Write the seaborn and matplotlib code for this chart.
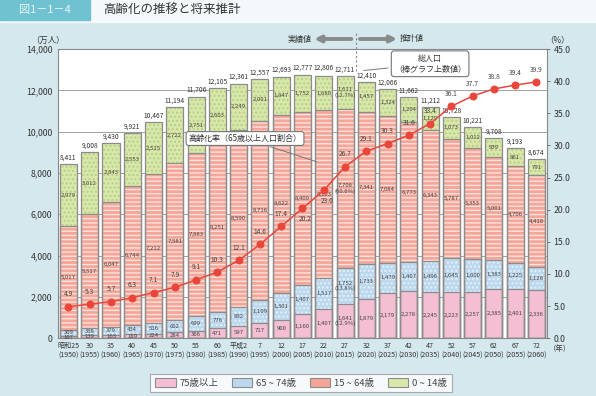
import numpy as np
import pandas as pd
import matplotlib.pyplot as plt
import seaborn as sns
from matplotlib.patches import Rectangle, Patch

# Data (万人, %)
years = [1950, 1955, 1960, 1965, 1970, 1975, 1980, 1985, 1990, 1995, 2000, 2005,
         2010, 2015, 2020, 2025, 2030, 2035, 2040, 2045, 2050, 2055, 2060]
era = ["昭和25", "30", "35", "40", "45", "50", "55", "60", "平成2", "7", "12", "17",
       "22", "27", "32", "37", "42", "47", "52", "57", "62", "67", "72"]
age75 = [107, 139, 163, 189, 224, 284, 366, 471, 597, 717, 900, 1160,
         1407, 1641, 1879, 2179, 2278, 2245, 2223, 2257, 2385, 2401, 2336]
age65 = [309, 338, 379, 434, 516, 602, 699, 776, 892, 1109, 1301, 1407,
         1517, 1752, 1733, 1479, 1407, 1496, 1645, 1600, 1383, 1225, 1128]
age15 = [5017, 5517, 6047, 6744, 7212, 7581, 7883, 8251, 8590, 8716, 8622, 8409,
         8103, 7708, 7341, 7084, 6773, 6343, 5787, 5353, 5001, 4706, 4418]
age0 = [2979, 3012, 2843, 2553, 2515, 2722, 2751, 2603, 2249, 2001, 1847, 1752,
        1680, 1611, 1457, 1324, 1204, 1129, 1073, 1012, 939, 861, 791]
totals = [8411, 9008, 9430, 9921, 10467, 11194, 11706, 12105, 12361, 12557, 12693, 12777,
          12806, 12711, 12410, 12066, 11662, 11212, 10728, 10221, 9708, 9193, 8674]
rate = [4.9, 5.3, 5.7, 6.3, 7.1, 7.9, 9.1, 10.3, 12.1, 14.6, 17.4, 20.2,
        23.0, 26.7, 29.1, 30.3, 31.6, 33.4, 36.1, 37.7, 38.8, 39.4, 39.9]
share_2015 = {"age75": "12.9%", "age65": "13.8%", "age15": "60.6%", "age0": "12.7%"}

sns.set_theme(style="white")
plt.rcParams['font.family'] = ['Noto Sans CJK JP', 'DejaVu Sans']
plt.rcParams['hatch.linewidth'] = 1.0

df = pd.DataFrame({"label": [f"{e}\n({y})" for e, y in zip(era, years)],
                   "age75": age75, "age65": age65, "age15": age15, "age0": age0})
df["c1"] = df["age75"]
df["c2"] = df["c1"] + df["age65"]
df["c3"] = df["c2"] + df["age15"]
df["c4"] = df["c3"] + df["age0"]

bg = "#d5e8ee"
pink, blue, salmon, green = "#f5bfd3", "#bcd8ee", "#f5a698", "#d8e7aa"
red = "#e8463a"
edge = "#8c8c8c"

fig = plt.figure(figsize=(5.96, 3.96), dpi=100, facecolor=bg)
ax = fig.add_axes([0.097, 0.146, 0.821, 0.730])
ax.set_facecolor("white")

# header
fig.patches.append(Rectangle((0, 1 - 22 / 396), 1, 22 / 396, transform=fig.transFigure,
                             color="#f3f8fa", zorder=0))
fig.patches.append(Rectangle((0, 1 - 20 / 396), 90 / 596, 20 / 396, transform=fig.transFigure,
                             color="#6fc2cf", zorder=1))
fig.text(45 / 596, 1 - 10 / 396, "図1－1－4", color="#e8f6f8", fontsize=8, ha="center", va="center")
fig.text(103 / 596, 1 - 10 / 396, "高齢化の推移と将来推計", color="#333333", fontsize=9,
         ha="left", va="center")

# stacked bars: draw cumulative totals back to front
layers = [("c4", green, "....", "#b9cf85"),
          ("c3", salmon, "----", "#fbe3de"),
          ("c2", blue, "....", "#e6f1f9"),
          ("c1", pink, None, pink)]
for col, color, hatch, hcol in layers:
    sns.barplot(data=df, x="label", y=col, color=color, saturation=1, width=0.8,
                hatch=hatch, edgecolor=hcol, linewidth=0, errorbar=None, ax=ax, zorder=2)
for col in ["c4", "c3", "c2", "c1"]:
    sns.barplot(data=df, x="label", y=col, color=edge, fill=False, width=0.8,
                linewidth=0.9, errorbar=None, ax=ax, zorder=3)

ax.set_xlim(-0.5, 22.5)
ax.set_ylim(0, 14000)
ax.set_yticks(range(0, 14001, 2000))
ax.set_yticklabels([f"{v:,}" for v in range(0, 14001, 2000)])
ax.yaxis.grid(True, color="#a0a0a0", linewidth=0.7)
ax.set_axisbelow(True)
ax.set_xlabel("")
ax.set_ylabel("")
ax.tick_params(axis="x", labelsize=5.1, length=0, pad=3, colors="#333333")
ax.tick_params(axis="y", labelsize=6.3, length=0, pad=4, colors="#333333")
for s in ax.spines.values():
    s.set_color("#888888")
    s.set_linewidth(0.8)

# value labels inside segments
for i in range(len(years)):
    bottom = 0
    for key in ["age75", "age65", "age15", "age0"]:
        v = df[key][i]
        txt = f"{v:,}"
        if years[i] == 2015:
            txt += f"\n({share_2015[key]})"
        ax.text(i, bottom + v / 2, txt, ha="center", va="center", fontsize=4.3,
                color="#444444", zorder=4, linespacing=1.0)
        bottom += v
    ax.text(i, totals[i] + 120, f"{totals[i]:,}", ha="center", va="bottom",
            fontsize=4.8, color="#333333", zorder=4)

# projection divider
ax.plot([13.5, 13.5], [12950, 14830], color="#888888", lw=0.8, ls=(0, (2, 2)),
        clip_on=False, zorder=5)
ax.annotate("", xy=(11.55, 14490), xytext=(13.3, 14490), annotation_clip=False,
            arrowprops=dict(arrowstyle="-|>", color="#8a8a8a", lw=2.8, mutation_scale=9,
                            shrinkA=0, shrinkB=0))
ax.annotate("", xy=(15.45, 14490), xytext=(13.7, 14490), annotation_clip=False,
            arrowprops=dict(arrowstyle="-|>", color="#8a8a8a", lw=2.8, mutation_scale=9,
                            shrinkA=0, shrinkB=0))
ax.text(11.45, 14490, "実績値", ha="right", va="center", fontsize=5.8, color="#333333")
ax.text(15.55, 14490, "推計値", ha="left", va="center", fontsize=5.8, color="#333333")

# aging rate line
ax2 = ax.twinx()
x_pos = np.arange(len(years))
sns.lineplot(x=x_pos, y=rate, ax=ax2, color=red, marker="o", markersize=5,
             markeredgecolor=red, linewidth=1.1, zorder=6)
ax2.set_ylim(0, 45)
ax2.set_yticks(np.arange(0, 45.1, 5))
ax2.set_yticklabels([f"{v:.1f}" for v in np.arange(0, 45.1, 5)])
ax2.tick_params(axis="y", labelsize=6.3, length=2.5, width=0.6, color="#666666",
                colors="#333333", pad=2)
for s in ax2.spines.values():
    s.set_visible(False)
for i, r in enumerate(rate):
    if years[i] in (2005, 2010):
        ax2.text(i + 0.15, r - 1.0, f"{r:.1f}", ha="center", va="top", fontsize=4.8,
                 color="#444444", zorder=7)
    else:
        ax2.text(i, r + 1.3, f"{r:.1f}", ha="center", va="bottom", fontsize=4.8,
                 color="#444444", zorder=7)
ax.set_xlim(-0.5, 22.5)

# callouts
ax.annotate("総人口\n（棒グラフ上数値）", xy=(13.75, 12950), xytext=(17.0, 13290),
            ha="center", va="center", fontsize=5.8, color="#333333", zorder=8,
            annotation_clip=False, linespacing=1.3,
            bbox=dict(boxstyle="round,pad=0.35", fc="white", ec="#777777", lw=0.8),
            arrowprops=dict(arrowstyle="-", color="#777777", lw=0.7))
ax.annotate("高齢化率（65歳以上人口割合）", xy=(11.8, 8500), xytext=(8.3, 9670),
            ha="center", va="center", fontsize=5.8, color="#333333", zorder=8,
            bbox=dict(boxstyle="round,pad=0.3", fc="white", ec="#777777", lw=0.8),
            arrowprops=dict(arrowstyle="-", color="#777777", lw=0.7))

# units
fig.text(48 / 596, 1 - 40 / 396, "（万人）", fontsize=6, ha="center", va="center", color="#333333")
fig.text(557 / 596, 1 - 40 / 396, "（%）", fontsize=6, ha="center", va="center", color="#333333")
fig.text(560 / 596, 1 - 349 / 396, "（年）", fontsize=5.3, ha="center", va="center", color="#333333")

# legend
handles = [Patch(facecolor=pink, edgecolor=edge, lw=0.8),
           Patch(facecolor=blue, edgecolor=edge, lw=0.8),
           Patch(facecolor=salmon, edgecolor=edge, lw=0.8),
           Patch(facecolor=green, edgecolor=edge, lw=0.8)]
labels = ["75歳以上", "65 ~ 74歳", "15 ~ 64歳", "0 ~ 14歳"]
leg = fig.legend(handles, labels, loc="center", bbox_to_anchor=(301 / 596, 1 - 383 / 396),
                 ncol=4, fontsize=6.8, frameon=True, fancybox=False, edgecolor="#999999",
                 facecolor="white", handlelength=2.2, handleheight=1.0, columnspacing=1.4,
                 borderpad=0.5, handletextpad=0.4)
leg.get_frame().set_linewidth(0.8)
for t in leg.get_texts():
    t.set_color("#444444")

fig.savefig("out.png", dpi=100, facecolor=bg)
